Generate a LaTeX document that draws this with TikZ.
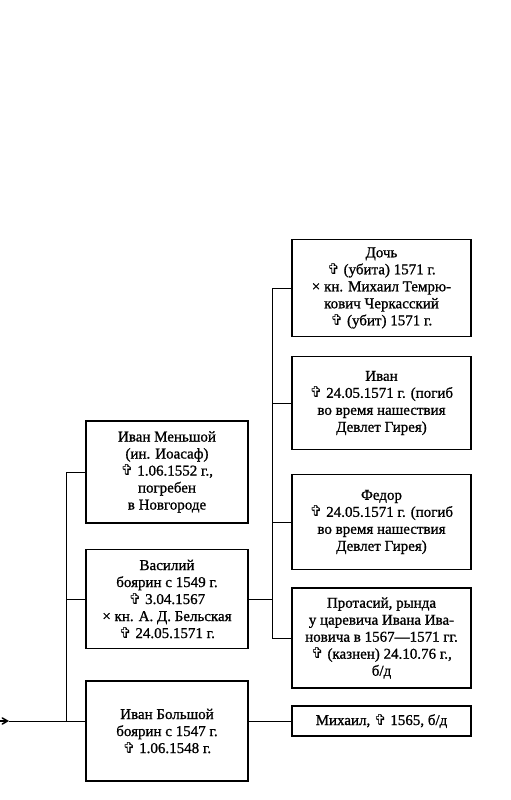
\documentclass[tikz,border=0pt]{standalone}
\usepackage{fontspec}
\setmainfont{Liberation Serif}[UprightFeatures={FakeBold=1}]
\newfontfamily\symfont{DejaVu Sans}
\newcommand{\dcross}{{\symfont\char"271E}}
\usetikzlibrary{arrows}
\tikzstyle{person} = [rectangle, draw, line width=1.2pt, text centered, align=center, inner sep=0pt, font=\fontsize{15}{17}\selectfont]
\tikzstyle{mid} = [person, minimum width=162pt]
\tikzstyle{son} = [person, minimum width=179pt]
\tikzstyle{line} = [line width=1pt]
\tikzstyle{arrow} = [line width=1.5pt,->,>=angle 60]

\begin{document}
\begin{tikzpicture}[x=1pt, y=-1pt]
  \useasboundingbox (0,0) rectangle (511,800);

  % middle column
  \node (menshoy) [mid, minimum height=102pt] at (167,472) {Иван Меньшой\\(ин. Иоасаф)\\\dcross{} 1.06.1552 г.,\\погребен\\в Новгороде};
  \node (vasily) [mid, minimum height=99pt] at (167,599) {Василий\\боярин с 1549 г.\\\dcross{} 3.04.1567\\× кн. А. Д. Бельская\\\dcross{} 24.05.1571 г.};
  \node (bolshoy) [mid, minimum height=100pt] at (167,731) {Иван Большой\\боярин с 1547 г.\\\dcross{} 1.06.1548 г.};

  % right column
  \node (doch) [son, minimum height=97pt] at (381.5,288) {Дочь\\\dcross{} (убита) 1571 г.\\× кн. Михаил Темрю-\\кович Черкасский\\\dcross{} (убит) 1571 г.};
  \node (ivan) [son, minimum height=93pt] at (381.5,403) {Иван\\\dcross{} 24.05.1571 г. (погиб\\во время нашествия\\Девлет Гирея)};
  \node (fedor) [son, minimum height=95pt] at (381.5,522) {Федор\\\dcross{} 24.05.1571 г. (погиб\\во время нашествия\\Девлет Гирея)};
  \node (protasy) [son, minimum height=100pt] at (381.5,638) {Протасий, рында\\у царевича Ивана Ива-\\новича в 1567—1571 гг.\\\dcross{} (казнен) 24.10.76 г.,\\б/д};
  \node (mikhail) [son, minimum height=30pt] at (381.5,721) {Михаил, \dcross{} 1565, б/д};

  % left spine
  \coordinate (start) at (0,721);
  \coordinate (tip) at (9,721);
  \coordinate (lspine) at (66,721);
  \draw [arrow] (start) -- (tip);
  \draw [line] (tip) -- ([yshift=10pt]bolshoy.west);
  \draw [line] (lspine) |- (menshoy.west);
  \draw [line] (lspine |- vasily.west) -- (vasily.west);

  % right spine
  \coordinate (rspine) at (272,638);
  \draw [line] (vasily.east) -- (rspine |- vasily.east);
  \draw [line] (rspine) |- (doch.west);
  \draw [line] (rspine |- ivan.west) -- (ivan.west);
  \draw [line] (rspine |- fedor.west) -- (fedor.west);
  \draw [line] (rspine) -- (protasy.west);
  \draw [line] ([yshift=10pt]bolshoy.east) -- (mikhail.west);
\end{tikzpicture}
\end{document}
